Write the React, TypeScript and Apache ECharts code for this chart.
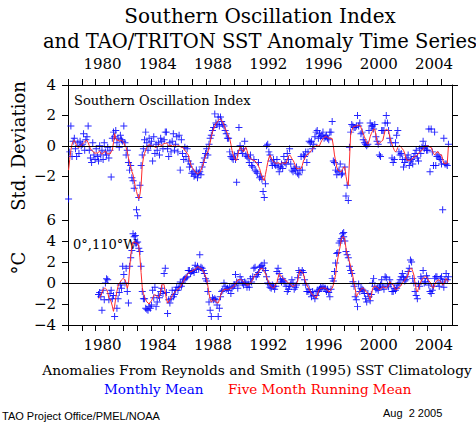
import { useEffect, useRef } from 'react';
import * as echarts from 'echarts';

// Southern Oscillation Index, monthly, Jan 1978 .. Jul 2005 (std. deviation units)
const SOI_START_YEAR = 1978;
const SOI_START_MONTH = 0;
const soiMonthly = [
  -3.5, -0.4, 1.3, -0.7, 0.3, 0.5, -0.2, -0.7, 0.2, -0.5, 0.3, 0.0,
  0.1, 0.8, -0.3, 0.4, 0.6, 1.3, -0.3, -0.8, -1.1, 0.2, -0.6, -0.9,
  -0.2, -0.7, -1.0, 0.0, -0.6, -0.3, -0.9, 0.2, -0.4, -0.6, -0.1, -0.8,
  -0.3, -2.05, 0.5, 0.9, 0.6, 1.0, 0.2, 0.5, -0.1, 0.7, 0.4, 0.3,
  1.3, 0.2, -0.6, -0.3, -1.1, -1.6, -1.3, -2.1, -2.3, -2.8, -5.9, -4.2,
  -4.6, -3.4, -2.6, -1.3, -0.6, -0.2, 0.4, 0.9, 0.2, -0.3, 0.5, 0.0,
  0.3, -1.0, 0.6, -0.5, 0.1, -0.3, 0.2, -0.6, 0.5, 0.3, -0.2, 0.4,
  0.9, 0.9, -0.2, -0.7, 0.2, -0.4, 0.3, 0.8, -0.3, 0.1, 0.6, -0.4,
  0.7, -1.6, 0.4, -0.5, -0.9, -0.1, -0.7, -0.2, -1.0, -1.4, -1.2, -1.8,
  -1.7, -2.0, -1.9, -1.6, -2.1, -1.8, -1.7, -1.9, -1.4, -1.1, -0.8, -0.5,
  -0.2, -0.6, 0.1, 0.5, 0.7, 1.0, 1.2, 2.1, 1.5, 1.4, 1.9, 1.3,
  1.9, 1.6, 1.4, 1.3, 1.0, 0.8, 0.5, 0.5, -0.4, -0.7, -0.8, -0.9,
  -0.6, -0.9, -2.4, -0.5, 1.2, 0.0, -0.3, -0.5, -0.2, 0.3, -0.6, -0.7,
  -0.8, -1.1, -0.6, -1.3, -1.4, -0.9, -1.6, -1.7, -1.8, -1.1, -2.1, -2.0,
  -2.2, -3.0, -3.4, -2.5, 0.0, 0.1, -0.4, -0.6, -1.0, -1.3, -0.9, -1.2,
  -1.3, -0.9, -1.4, -1.7, -1.4, -1.2, -1.5, -0.7, -1.1, -1.2, -0.5, -0.9,
  -0.2, -1.2, -1.6, -1.7, -1.5, -1.6, -1.4, -1.8, -1.9, -1.6, -0.7, -1.6,
  -0.6, -0.7, -0.4, -1.1, -0.4, 0.3, 0.2, 0.3, -0.2, 0.1, 0.6, 0.9,
  1.0, 0.5, 0.8, 0.6, 0.7, 0.9, 0.5, 0.6, 0.7, 0.5, 0.4, 0.9,
  0.9, 1.6, -1.0, -1.1, -1.6, -1.9, -1.7, -1.6, -1.2, -1.9, -1.8, -5.7,
  -1.4, -3.3, -2.6, -3.6, -0.1, 0.9, 1.4, 1.3, 1.2, 1.2, 1.3, 2.0,
  1.3, 1.5, 0.8, 0.9, 0.4, 0.2, 0.1, 0.0, 0.1, 1.0, 1.5, 1.3,
  1.3, 1.1, 1.4, 0.6, 0.3, 0.1, -0.6, -0.7, 1.0, 1.0, 1.0, 1.5,
  2.0, 1.5, 1.0, 0.5, 0.2, -0.8, -1.1, -0.9, 0.2, 0.7, 1.0, -0.4,
  -0.6, -0.5, -0.9, -1.4, -1.1, -0.9, -0.8, -0.6, -1.3, -1.0, -0.9, -1.2,
  -0.7, -0.5, -0.3, -0.8, -1.0, -0.2, -0.5, -0.1, 0.3, -0.2, 0.0, -0.3,
  -0.3, 1.1, -1.7, 1.1, -0.4, -1.3, 0.9, -1.3, -0.7, -0.6, -0.8, -0.9,
  -1.2, -4.2, 0.5, -1.2, -1.2, -1.3, 0.1,
];
const soiRunningMean = [
  -1.6, -0.9, -0.3, 0.1, 0.3, 0.36, 0.2, 0.0, -0.1, -0.1, -0.05, 0.05,
  0.1, 0.2, 0.25, 0.35, 0.36, 0.2, 0.0, -0.2, -0.3, -0.35, -0.45, -0.5,
  -0.45, -0.5, -0.4, -0.35, -0.5, -0.55, -0.5, -0.4, -0.35, -0.45, -0.55, -0.5,
  -0.55, -0.4, -0.3, 0.2, 0.8, 0.5, 0.35, 0.4, 0.3, 0.35, 0.36, 0.3,
  0.2, 0.0, -0.1, -0.4, -0.8, -1.1, -1.4, -1.7, -1.9, -2.3, -2.7, -3.0,
  -3.3, -3.5, -3.2, -2.6, -1.3, -0.8, -0.5, -0.3, -0.1, 0.0, 0.1, 0.0,
  0.0, -0.05, 0.0, -0.1, -0.1, -0.05, 0.0, 0.1, 0.05, 0.0, 0.1, 0.15,
  0.15, 0.2, 0.1, 0.0, 0.0, 0.05, -0.05, 0.0, 0.05, 0.0, -0.05, 0.0,
  0.0, -0.05, -0.1, -0.1, -0.2, -0.3, -0.4, -0.5, -0.6, -0.9, -1.2, -1.4,
  -1.5, -1.6, -1.7, -1.8, -1.85, -1.8, -1.75, -1.6, -1.4, -1.2, -0.9, -0.7,
  -0.5, -0.4, -0.1, 0.2, 0.6, 0.9, 1.1, 1.3, 1.45, 1.55, 1.65, 1.75,
  1.75, 1.65, 1.55, 1.35, 1.15, 1.0, 0.8, 0.6, 0.47, 0.1, -0.3, -0.6,
  -0.8, -0.95, -0.95, -0.6, -0.3, -0.1, -0.2, -0.3, -0.4, -0.2, -0.1, -0.3,
  -0.6, -0.85, -0.8, -0.9, -0.95, -0.95, -1.0, -1.1, -1.2, -1.35, -1.5, -1.8,
  -2.0, -2.2, -2.3, -1.9, -1.5, -1.1, -0.8, -0.6, -0.8, -0.95, -1.05, -1.1,
  -1.15, -1.15, -1.1, -1.15, -1.2, -1.15, -1.1, -1.15, -1.15, -1.15, -0.9, -0.7,
  -0.6, -0.7, -0.85, -0.95, -1.1, -1.3, -1.5, -1.5, -1.5, -1.5, -1.5, -1.3,
  -1.0, -0.85, -0.7, -0.6, -0.55, -0.5, -0.4, -0.3, -0.2, -0.1, -0.05, 0.0,
  0.05, 0.0, 0.0, 0.2, 0.35, 0.47, 0.55, 0.6, 0.6, 0.55, 0.5, 0.5,
  0.5, 0.47, 0.0, -0.6, -1.0, -1.4, -1.6, -1.65, -1.7, -1.7, -1.55, -1.4,
  -1.4, -2.0, -2.4, -2.6, -1.0, 0.7, 1.0, 1.2, 1.25, 1.3, 1.3, 1.35,
  1.35, 1.35, 1.2, 1.0, 0.8, 0.6, 0.4, 0.2, 0.1, 0.3, 0.6, 0.8,
  0.95, 1.1, 1.1, 0.7, 0.3, 0.1, 0.15, 0.25, 0.3, 0.36, 0.7, 1.0,
  1.1, 1.05, 1.0, 0.6, 0.3, 0.1, -0.1, -0.3, -0.4, -0.3, -0.1, 0.0,
  0.0, -0.1, -0.2, -0.3, -0.5, -0.8, -0.95, -0.95, -0.95, -0.95, -0.9, -0.8,
  -0.75, -0.7, -0.65, -0.6, -0.5, -0.4, -0.35, -0.3, -0.2, -0.1, -0.05, 0.0,
  0.0, -0.05, -0.1, -0.1, -0.3, -0.5, -0.6, -0.5, -0.4, -0.4, -0.5, -0.6,
  -0.6, -0.9, -1.15, -1.15, -1.15, -1.15, 0.0,
];

// SST anomaly at 0°,110°W, monthly, Mar 1980 .. Jul 2005 (°C)
const SST_START_YEAR = 1980;
const SST_START_MONTH = 2;
const sstMonthly = [
  -1.1, -0.9, -1.3, -2.6, -0.7, -1.6, 0.0, 0.4, 0.3, -1.6,
  -1.0, -0.7, -1.5, -1.2, -3.2, -4.3, -2.4, -1.5, -0.9, -0.2, -0.5, 1.6,
  0.8, 0.0, 1.4, -0.8, -1.9, 1.6, 2.4, 3.1, 4.7, 4.4, 3.8, 3.8,
  3.9, 3.3, 3.0, 1.6, -0.8, -1.5, -1.5, -2.4, -2.5, -2.6, -2.25, -2.4,
  -2.1, -0.7, -1.4, -0.4, -2.25, -1.8, -1.2, -1.4, -0.8, -0.5, -1.0, 0.9,
  1.4, -0.9, -2.9, -1.6, -1.9, -1.5, -0.7, -1.3, -1.1, -0.7, -0.4, -0.7,
  -0.4, 0.1, -0.3, 0.0, 0.3, 0.4, 0.5, 0.6, 1.2, 1.2, 0.9, 1.1,
  1.2, 1.0, 1.7, 1.3, 1.6, 1.3, 2.7, 1.5, 1.4, 1.2, 0.9, 0.4,
  0.2, -0.8, -1.8, -2.6, -3.2, -1.4, -1.6, -1.5, -1.6, -2.1, -3.2, -2.4,
  -1.3, -0.8, -0.7, 0.0, -0.3, -0.6, -0.5, -0.7, -0.4, -1.0, -0.5, -0.3,
  -0.2, 0.8, 0.1, -0.5, 0.0, 0.6, 0.3, 0.0, -0.2, 0.1, 0.0, -0.4,
  -0.1, -0.4, 0.4, 0.1, 0.6, 1.4, 1.5, 0.6, 0.8, 1.0, 1.5, 1.6,
  1.7, 1.4, 1.9, 1.2, 0.6, 0.0, -0.1, -0.4, -0.5, -0.2, -0.3, -0.6,
  -0.3, 1.1, 1.4, 0.9, 0.3, 0.1, 0.4, 0.2, 0.0, -0.3, -0.8, -0.6,
  -0.3, -0.1, 0.3, 0.0, -0.6, -0.4, -0.2, 0.5, 1.2, 1.0, 1.0, 1.2,
  1.0, 0.3, -0.2, -0.8, -0.8, -0.6, -0.9, -1.3, -0.8, -1.2, -1.5, -1.2,
  -0.7, -0.8, -0.6, -0.4, -0.5, -0.35, -0.5, -0.5, -0.8, -0.6, -0.9, -1.3,
  -0.6, 0.44, 0.2, 1.1, 1.9, 2.8, 2.9, 3.8, 4.0, 4.25, 4.7, 4.4,
  4.0, 3.0, 2.7, 2.4, 1.6, 1.2, 0.9, 0.13, -0.3, -1.3, -1.6, -2.25,
  -0.1, -0.8, -0.5, -0.6, -0.7, -1.0, -1.5, -1.8, -1.0, -1.3, -1.7, -1.1,
  0.0, 0.44, -0.3, -0.6, -0.5, -0.7, -0.4, -0.2, 0.3, -0.35, -0.6, 0.6,
  0.5, -0.2, -0.35, 0.3, -0.1, -0.8, -0.8, -0.5, -0.7, -0.5, -0.2, 0.0,
  0.3, 0.6, 0.9, 0.5, 0.2, 0.3, 0.6, 1.1, 1.4, 2.2, 2.0, 0.44,
  0.0, -0.8, -1.2, -1.5, -0.1, -0.3, 0.6, 0.44, 1.2, 0.0, 0.13, 0.7,
  0.44, -0.2, -0.8, -1.0, -0.7, -0.3, 0.44, 0.6, 0.6, 0.0, -0.3, 0.44,
  0.6, 0.1, -0.4, 0.3, 0.9, 0.3, 0.6,
];
const sstRunningMean = [
  -1.5, -1.4, -1.2, -0.9, -0.6, -0.5, -0.5, -0.6, -0.9, -1.4,
  -1.5, -1.8, -2.2, -2.7, -2.2, -1.4, -0.8, -0.3, 0.0, 0.1, 0.3, 0.4,
  0.4, 0.3, 0.0, -0.5, -0.1, 1.3, 2.6, 3.5, 3.9, 3.9, 3.85, 3.8,
  3.8, 3.5, 2.4, 1.0, -0.4, -1.0, -1.3, -1.6, -1.8, -1.9, -2.0, -1.8,
  -1.7, -1.45, -1.2, -1.1, -1.2, -1.3, -1.4, -1.3, -0.8, -0.2, 0.0, -0.2,
  -0.9, -1.5, -1.9, -1.8, -1.6, -1.4, -1.2, -1.0, -0.9, -0.8, -0.7, -0.6,
  -0.5, -0.4, -0.2, 0.0, 0.2, 0.4, 0.6, 0.8, 0.9, 1.0, 1.1, 1.1,
  1.2, 1.25, 1.3, 1.4, 1.55, 1.5, 1.4, 1.4, 1.3, 1.1, 0.9, 0.6,
  0.4, -0.3, -1.0, -1.5, -1.8, -1.7, -1.6, -1.6, -1.75, -1.9, -1.9, -1.6,
  -1.2, -0.9, -0.7, -0.65, -0.6, -0.6, -0.65, -0.6, -0.55, -0.5, -0.45, -0.35,
  -0.3, -0.1, 0.1, 0.3, 0.3, 0.35, 0.3, 0.2, 0.1, 0.0, -0.1, -0.2,
  -0.2, -0.1, 0.0, 0.15, 0.3, 0.6, 0.75, 0.85, 0.9, 1.0, 1.2, 1.4,
  1.4, 1.3, 1.1, 0.9, 0.6, 0.3, 0.0, -0.2, -0.35, -0.4, -0.5, -0.3,
  -0.1, 0.0, 0.5, 0.9, 0.8, 0.6, 0.5, 0.4, 0.3, 0.2, 0.1, 0.0,
  0.0, -0.15, -0.3, -0.35, -0.25, -0.2, -0.1, 0.2, 0.8, 1.2, 1.1, 1.0,
  0.9, 0.4, 0.1, -0.2, -0.4, -0.6, -0.8, -1.0, -1.15, -1.2, -1.3, -1.45,
  -1.2, -0.8, -0.6, -0.5, -0.5, -0.45, -0.5, -0.5, -0.55, -0.7, -0.85, -0.8,
  -0.6, -0.5, -0.2, 0.3, 0.8, 1.8, 2.4, 3.0, 3.5, 4.2, 4.4, 4.4,
  4.1, 3.3, 2.7, 2.5, 2.0, 1.6, 1.2, 0.6, 0.0, -0.5, -1.3, -1.1,
  -0.9, -0.8, -0.6, -0.5, -0.5, -0.6, -0.8, -0.85, -1.0, -1.3, -1.6, -1.2,
  -0.6, -0.35, -0.3, -0.35, -0.4, -0.5, -0.65, -0.6, -0.45, -0.35, -0.4, -0.45,
  -0.5, -0.4, -0.2, 0.13, 0.0, -0.1, -0.2, -0.4, -0.6, -0.65, -0.5, -0.4,
  -0.35, -0.2, 0.0, 0.13, 0.3, 0.45, 0.5, 0.8, 1.25, 1.35, 1.4, 1.1,
  0.76, 0.0, -0.6, -0.85, -0.5, -0.2, 0.1, 0.35, 0.45, 0.55, 0.6, 0.55,
  0.4, 0.2, 0.1, -0.1, -0.4, -0.5, -0.2, 0.1, 0.2, 0.3, 0.3, 0.15,
  0.0, -0.2, -0.1, 0.2, 0.44, 0.3, 0.13,
];

const tickYears = [
  1978, 1979, 1980, 1981, 1982, 1983, 1984, 1985, 1986, 1987, 1988, 1989, 1990, 1991,
  1992, 1993, 1994, 1995, 1996, 1997, 1998, 1999, 2000, 2001, 2002, 2003, 2004, 2005,
];
const labelYears = [1980, 1984, 1988, 1992, 1996, 2000, 2004];
const soiTicks = [4, 2, 0, -2];
const sstTicks = [6, 4, 2, 0, -2, -4];

const X_MIN = 1978;
const X_MAX = 2005.8;

const SERIF = '"DejaVu Serif"';
const SANS = '"Liberation Sans"';
const PLUS =
  'path://M-1,-0.14L-0.14,-0.14L-0.14,-1L0.14,-1L0.14,-0.14L1,-0.14L1,0.14L0.14,0.14L0.14,1L-0.14,1L-0.14,0.14L-1,0.14Z';

function toPairs(values: number[], startYear: number, startMonth: number) {
  return values.map((v, i) => [startYear + (startMonth + i + 0.5) / 12, v]);
}

const minusFmt = (v: number) => (v < 0 ? '\u2212' + Math.abs(v) : String(v));

function xAxisFor(gridIndex: number, position: 'top' | 'bottom') {
  return {
    type: 'value',
    gridIndex,
    position,
    min: X_MIN,
    max: X_MAX,
    axisLine: { show: true, onZero: false, lineStyle: { color: '#000', width: 1 } },
    axisTick: {
      show: true,
      customValues: tickYears,
      length: 6,
      lineStyle: { color: '#000', width: 1 },
    },
    axisLabel: {
      show: true,
      customValues: labelYears.map((y) => y + 0.5),
      formatter: (v: number) => String(Math.floor(v)),
      fontFamily: SERIF,
      fontSize: 15,
      color: '#000',
      margin: position === 'top' ? 14 : 12,
    },
    splitLine: { show: false },
  };
}

function yAxisFor(
  gridIndex: number,
  position: 'left' | 'right',
  min: number,
  max: number,
  ticks: number[],
) {
  return {
    type: 'value',
    gridIndex,
    position,
    min,
    max,
    axisLine: { show: true, onZero: false, lineStyle: { color: '#000', width: 1 } },
    axisTick: {
      show: true,
      customValues: ticks,
      length: 6,
      lineStyle: { color: '#000', width: 1 },
    },
    axisLabel: {
      show: position === 'left',
      customValues: ticks,
      formatter: minusFmt,
      fontFamily: SERIF,
      fontSize: 15,
      color: '#000',
      margin: 12,
    },
    splitLine: { show: false },
  };
}

const zeroLine = {
  silent: true,
  symbol: 'none',
  label: { show: false },
  lineStyle: { color: '#000', width: 1, type: 'solid' },
  data: [{ yAxis: 0 }],
};

function txt(
  text: string,
  x: number,
  y: number,
  size: number,
  opts: { family?: string; color?: string; align?: string; rotation?: number } = {},
) {
  return {
    type: 'text',
    x,
    y,
    rotation: opts.rotation || 0,
    silent: true,
    style: {
      text,
      fontSize: size,
      fontFamily: opts.family || SERIF,
      fill: opts.color || '#000',
      align: opts.align || 'center',
      verticalAlign: 'middle',
    },
  };
}

export default function App() {
  const ref = useRef<HTMLDivElement>(null);

  useEffect(() => {
    if (!ref.current) return;
    const chart = echarts.init(ref.current, null, { renderer: 'svg' });
    const option = {
      animation: false,
      backgroundColor: '#fff',
      grid: [
        { left: 68, top: 85, width: 384, height: 152, containLabel: false },
        { left: 68, top: 220, width: 384, height: 105, containLabel: false },
      ],
      xAxis: [xAxisFor(0, 'top'), xAxisFor(1, 'bottom')],
      yAxis: [
        yAxisFor(0, 'left', -6, 4, soiTicks),
        yAxisFor(0, 'right', -6, 4, soiTicks),
        yAxisFor(1, 'left', -4, 6, sstTicks),
        yAxisFor(1, 'right', -4, 6, sstTicks),
      ],
      series: [
        {
          type: 'line',
          name: 'SOI five month running mean',
          xAxisIndex: 0,
          yAxisIndex: 0,
          data: toPairs(soiRunningMean, SOI_START_YEAR, SOI_START_MONTH),
          showSymbol: false,
          symbol: 'none',
          lineStyle: { color: '#ff2a2a', width: 1 },
          markLine: zeroLine,
          z: 3,
        },
        {
          type: 'scatter',
          name: 'SOI monthly mean',
          xAxisIndex: 0,
          yAxisIndex: 0,
          data: toPairs(soiMonthly, SOI_START_YEAR, SOI_START_MONTH),
          symbol: PLUS,
          symbolSize: 7,
          itemStyle: { color: '#0000ff', opacity: 0.85 },
          z: 2,
        },
        {
          type: 'line',
          name: 'SST five month running mean',
          xAxisIndex: 1,
          yAxisIndex: 2,
          data: toPairs(sstRunningMean, SST_START_YEAR, SST_START_MONTH),
          showSymbol: false,
          symbol: 'none',
          lineStyle: { color: '#ff2a2a', width: 1 },
          markLine: zeroLine,
          z: 3,
        },
        {
          type: 'scatter',
          name: 'SST monthly mean',
          xAxisIndex: 1,
          yAxisIndex: 2,
          data: toPairs(sstMonthly, SST_START_YEAR, SST_START_MONTH),
          symbol: PLUS,
          symbolSize: 7,
          itemStyle: { color: '#0000ff', opacity: 0.85 },
          z: 2,
        },
      ],
      graphic: [
        txt('Southern Oscillation Index', 260, 16, 20),
        txt('and TAO/TRITON SST Anomaly Time Series', 260, 41, 19.5),
        txt('Std. Deviation', 18, 146, 18, { rotation: Math.PI / 2 }),
        txt('\u00b0C', 18, 263, 18, { rotation: Math.PI / 2 }),
        txt('Southern Oscillation Index', 74, 100, 13, { align: 'left' }),
        txt('0\u00b0,110\u00b0W', 73, 244, 13, { align: 'left' }),
        txt('Anomalies From Reynolds and Smith (1995) SST Climatology', 257, 370, 13.8),
        txt('Monthly Mean', 104, 389, 13.5, { align: 'left', color: '#0000ff' }),
        txt('Five Month Running Mean', 228, 389, 13.5, { align: 'left', color: '#ff0000' }),
        txt('TAO Project Office/PMEL/NOAA', 2, 416, 11, { align: 'left', family: SANS }),
        txt('Aug\u00a0\u00a02 2005', 383, 413, 11, { align: 'left', family: SANS }),
      ],
    };
    chart.setOption(option as any);
    return () => chart.dispose();
  }, []);

  return (
    <div
      ref={ref}
      style={{ position: 'fixed', left: 0, top: 0, width: 476, height: 423, background: '#fff' }}
    />
  );
}
